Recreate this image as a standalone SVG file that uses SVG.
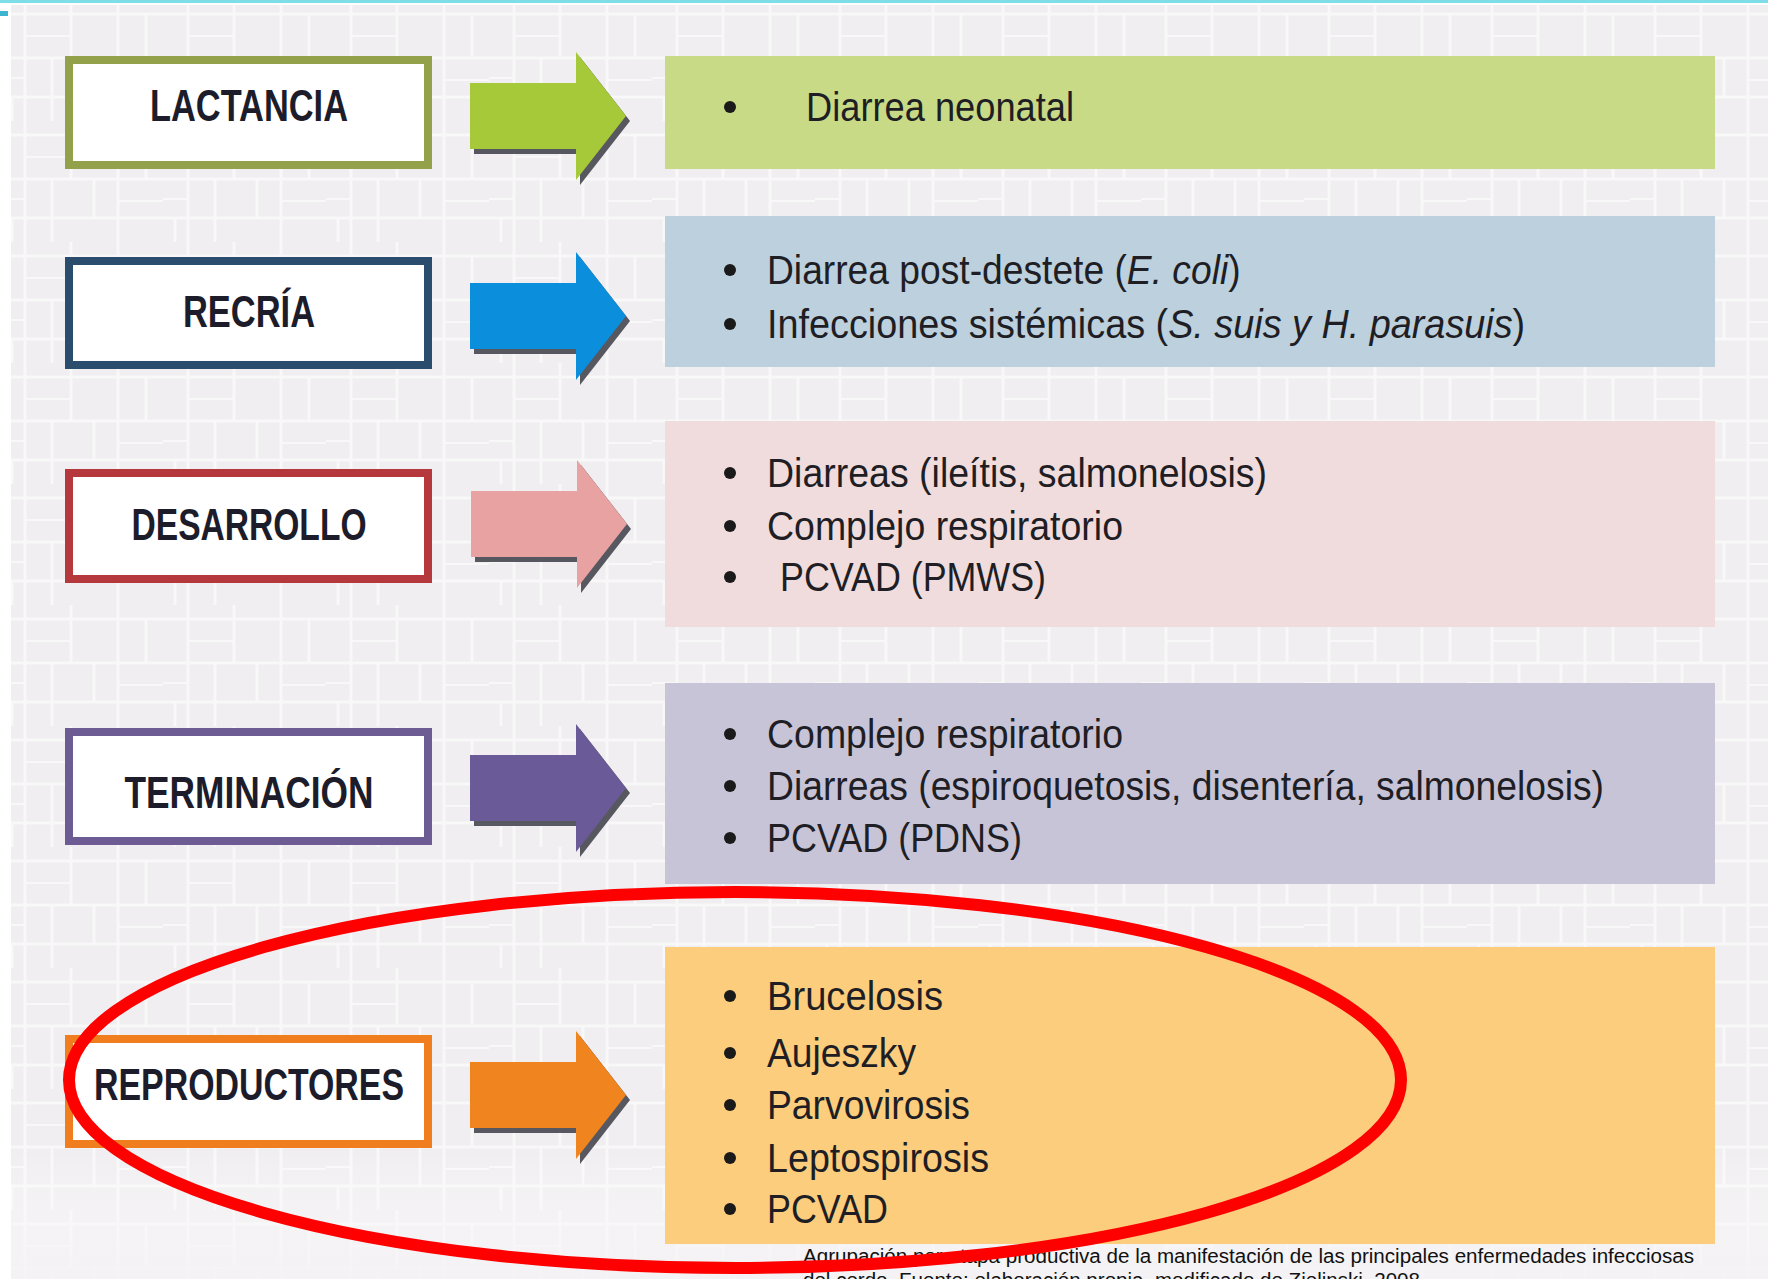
<svg xmlns="http://www.w3.org/2000/svg" width="1768" height="1279" viewBox="0 0 1768 1279">
<style>
.lbl{font-family:"Liberation Sans",Arial,sans-serif;font-weight:bold;font-size:45px;fill:#1c1c2a;text-anchor:middle}
.itm{font-family:"Liberation Sans",Arial,sans-serif;font-size:41px;fill:#1e1e24}
.it{font-style:italic}
.cap{font-family:"Liberation Sans",Arial,sans-serif;font-size:20px;fill:#111}
.box{fill:#fff;stroke-width:8}
.shadow{fill:#3c3c46;opacity:0.85}
.bul{fill:#1a1a1a}
</style>
<defs>
<pattern id="tex" width="163" height="121" patternUnits="userSpaceOnUse">
<rect width="163" height="121" fill="#f0eef0"/>
<path d="M0 14H163M0 58H163M0 97H163M25 0V121M71 0V58M118 0V121M52 58V121M94 58V97M146 14V58M12 97V121" stroke="#f9f8f9" stroke-width="3" fill="none"/>
<path d="M25 36H71M118 80H163M71 97H118M0 78H25" stroke="#f9f8f9" stroke-width="2" fill="none"/>
</pattern>
<linearGradient id="fade" x1="0" y1="0" x2="0" y2="1">
<stop offset="0" stop-color="#fff" stop-opacity="0"/>
<stop offset="1" stop-color="#f4f2f4" stop-opacity="0.9"/>
</linearGradient>
<polygon id="arr" points="0,-33 106,-33 106,-64 156,0 106,64 106,33 0,33"/>
</defs>
<rect width="1768" height="1279" fill="#ffffff"/>
<rect x="11" y="5" width="1757" height="1274" fill="url(#tex)"/>
<rect x="11" y="1150" width="1757" height="129" fill="url(#fade)"/>
<rect x="0" y="0" width="1768" height="3" fill="#7fdde8"/>
<rect x="0" y="11" width="8" height="5" fill="#3db4cf"/>

<g id="connectors">
<g id="arrow-lactancia" transform="translate(470,116)"><use href="#arr" class="shadow" x="4" y="5"/><use href="#arr" fill="#a6c93a"/></g>
<g id="arrow-recria" transform="translate(470,316)"><use href="#arr" class="shadow" x="4" y="5"/><use href="#arr" fill="#0b8edc"/></g>
<g id="arrow-desarrollo" transform="translate(471,524)"><use href="#arr" class="shadow" x="4" y="5"/><use href="#arr" fill="#e9a2a2"/></g>
<g id="arrow-terminacion" transform="translate(470,788)"><use href="#arr" class="shadow" x="4" y="5"/><use href="#arr" fill="#6b5a98"/></g>
<g id="arrow-reproductores" transform="translate(470,1095)"><use href="#arr" class="shadow" x="4" y="5"/><use href="#arr" fill="#f0841f"/></g>
</g>

<g id="node-lactancia">
<rect class="box" x="69" y="60" width="359" height="105" stroke="#93a24a"/>
<text class="lbl" x="249" y="121" textLength="198" lengthAdjust="spacingAndGlyphs">LACTANCIA</text>
</g>
<g id="node-recria">
<rect class="box" x="69" y="261" width="359" height="104" stroke="#2a4d6e"/>
<text class="lbl" x="249" y="327" textLength="132" lengthAdjust="spacingAndGlyphs">RECRÍA</text>
</g>
<g id="node-desarrollo">
<rect class="box" x="69" y="473" width="359" height="106" stroke="#b5393c"/>
<text class="lbl" x="249" y="540" textLength="235" lengthAdjust="spacingAndGlyphs">DESARROLLO</text>
</g>
<g id="node-terminacion">
<rect class="box" x="69" y="732" width="359" height="109" stroke="#6d5b94"/>
<text class="lbl" x="249" y="808" textLength="249" lengthAdjust="spacingAndGlyphs">TERMINACIÓN</text>
</g>
<g id="node-reproductores">
<rect class="box" x="69" y="1039" width="359" height="105" stroke="#f07d1e"/>
<text class="lbl" x="249" y="1100" textLength="310" lengthAdjust="spacingAndGlyphs">REPRODUCTORES</text>
</g>

<g id="list-lactancia">
<rect x="665" y="56" width="1050" height="113" fill="#c8da86"/>
<circle class="bul" cx="730" cy="107" r="6"/>
<text class="itm" x="806" y="121" textLength="268" lengthAdjust="spacingAndGlyphs">Diarrea neonatal</text>
</g>
<g id="list-recria">
<rect x="665" y="216" width="1050" height="151" fill="#bcd0de"/>
<circle class="bul" cx="730" cy="270" r="6"/>
<text class="itm" transform="translate(767,284) scale(0.908,1)">Diarrea post-destete (<tspan class="it">E. coli</tspan>)</text>
<circle class="bul" cx="730" cy="324" r="6"/>
<text class="itm" transform="translate(767,338) scale(0.922,1)">Infecciones sistémicas (<tspan class="it">S. suis y H. parasuis</tspan>)</text>
</g>
<g id="list-desarrollo">
<rect x="665" y="421" width="1050" height="206" fill="#f0dcdc"/>
<circle class="bul" cx="730" cy="473" r="6"/>
<text class="itm" x="767" y="487" textLength="500" lengthAdjust="spacingAndGlyphs">Diarreas (ileítis, salmonelosis)</text>
<circle class="bul" cx="730" cy="526" r="6"/>
<text class="itm" x="767" y="540" textLength="356" lengthAdjust="spacingAndGlyphs">Complejo respiratorio</text>
<circle class="bul" cx="730" cy="577" r="6"/>
<text class="itm" x="780" y="591" textLength="266" lengthAdjust="spacingAndGlyphs">PCVAD (PMWS)</text>
</g>
<g id="list-terminacion">
<rect x="665" y="683" width="1050" height="201" fill="#c8c4d8"/>
<circle class="bul" cx="730" cy="734" r="6"/>
<text class="itm" x="767" y="748" textLength="356" lengthAdjust="spacingAndGlyphs">Complejo respiratorio</text>
<circle class="bul" cx="730" cy="786" r="6"/>
<text class="itm" x="767" y="800" textLength="837" lengthAdjust="spacingAndGlyphs">Diarreas (espiroquetosis, disentería, salmonelosis)</text>
<circle class="bul" cx="730" cy="838" r="6"/>
<text class="itm" x="767" y="852" textLength="255" lengthAdjust="spacingAndGlyphs">PCVAD (PDNS)</text>
</g>
<g id="list-reproductores">
<rect x="665" y="947" width="1050" height="297" fill="#fccd7c"/>
<circle class="bul" cx="730" cy="996" r="6"/>
<text class="itm" x="767" y="1010" textLength="176" lengthAdjust="spacingAndGlyphs">Brucelosis</text>
<circle class="bul" cx="730" cy="1053" r="6"/>
<text class="itm" x="767" y="1067" textLength="149" lengthAdjust="spacingAndGlyphs">Aujeszky</text>
<circle class="bul" cx="730" cy="1105" r="6"/>
<text class="itm" x="767" y="1119" textLength="203" lengthAdjust="spacingAndGlyphs">Parvovirosis</text>
<circle class="bul" cx="730" cy="1158" r="6"/>
<text class="itm" x="767" y="1172" textLength="222" lengthAdjust="spacingAndGlyphs">Leptospirosis</text>
<circle class="bul" cx="730" cy="1209" r="6"/>
<text class="itm" x="767" y="1223" textLength="121" lengthAdjust="spacingAndGlyphs">PCVAD</text>
</g>

<g id="caption">
<text class="cap" x="803" y="1263" textLength="891" lengthAdjust="spacingAndGlyphs">Agrupación por etapa productiva de la manifestación de las principales enfermedades infecciosas</text>
<text class="cap" x="803" y="1287" textLength="617" lengthAdjust="spacingAndGlyphs">del cerdo. Fuente: elaboración propia, modificado de Zielinski, 2008</text>
</g>

<g id="highlight">
<ellipse cx="735" cy="1080" rx="666" ry="188" fill="none" stroke="#ff0000" stroke-width="12"/>
</g>
</svg>
